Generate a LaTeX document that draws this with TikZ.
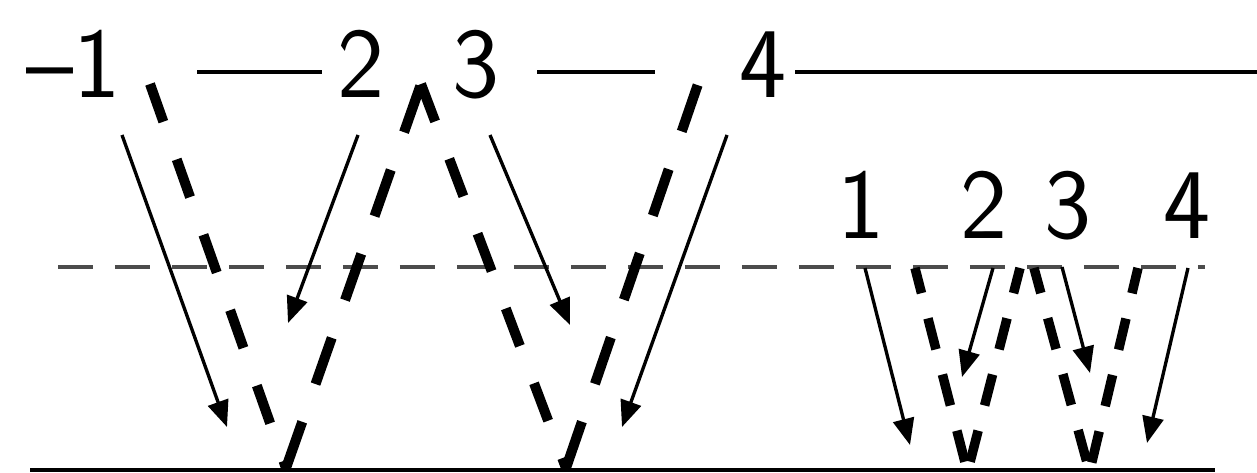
\documentclass[tikz,border=0pt]{standalone}
\usetikzlibrary{arrows.meta}
\begin{document}
\begin{tikzpicture}[x=0.02cm,y=-0.02cm,
  lbl/.style={anchor=base,inner sep=0pt,font=\sffamily\fontsize{57}{62}\selectfont},
  surf/.style={line width=2.4pt},
  level/.style={line width=2pt,black!70,dash pattern=on 0.7cm off 0.44cm},
  ray/.style={line width=1.9pt,-{Triangle[length=15pt,width=12pt]}},
  wavedn/.style={line width=5.7pt,dash pattern=on 0.8cm off 0.8cm},
  waveup/.style={line width=5.7pt,dash pattern=on 0.98cm off 0.8cm},
  wavesm/.style={line width=5.4pt,dash pattern=on 0.64cm off 0.52cm,dash phase=0.12cm}]
 \useasboundingbox (0,0) rectangle (1257,473);
 \draw[surf] (197,72)--(322,72) (537,72)--(655,72) (795,72)--(1257,72);
 \draw[level] (58,267)--(1205,267);
 \draw[surf] (30,470)--(1215,470);
 \node[lbl] (tm1) at (74,97) {–1};
 \node[lbl] (t2) at (361,97) {2};
 \node[lbl] (t3) at (476,97) {3};
 \node[lbl] (t4) at (763,97) {4};
 \node[lbl] (b1) at (861,238) {1};
 \node[lbl] (b2) at (984,238) {2};
 \node[lbl] (b3) at (1068,238) {3};
 \node[lbl] (b4) at (1187,238) {4};
 \foreach \xa/\ya/\xb/\yb in {122/135/227/427,358/135/288/323,490/135/570/325,727/135/622/427,
   865/268/910/445,993/268/962/377,1062/267/1090/373,1188/268/1147/443}
   \draw[ray] (\xa,\ya)--(\xb,\yb);
 \coordinate (p0) at (150,84); \coordinate (q1) at (286,468); \coordinate (p1) at (421,84);
 \coordinate (q2) at (566,468); \coordinate (p2) at (698,84);
 \draw[wavedn] (p0)--(q1); \draw[waveup] (q1)--(p1);
 \draw[wavedn] (p1)--(q2); \draw[waveup] (q2)--(p2);
 \foreach \xa/\xb in {915/967,1020/968,1034/1089,1138/1090}
   \draw[wavesm] (\xa,268)--(\xb,470);
\end{tikzpicture}
\end{document}
